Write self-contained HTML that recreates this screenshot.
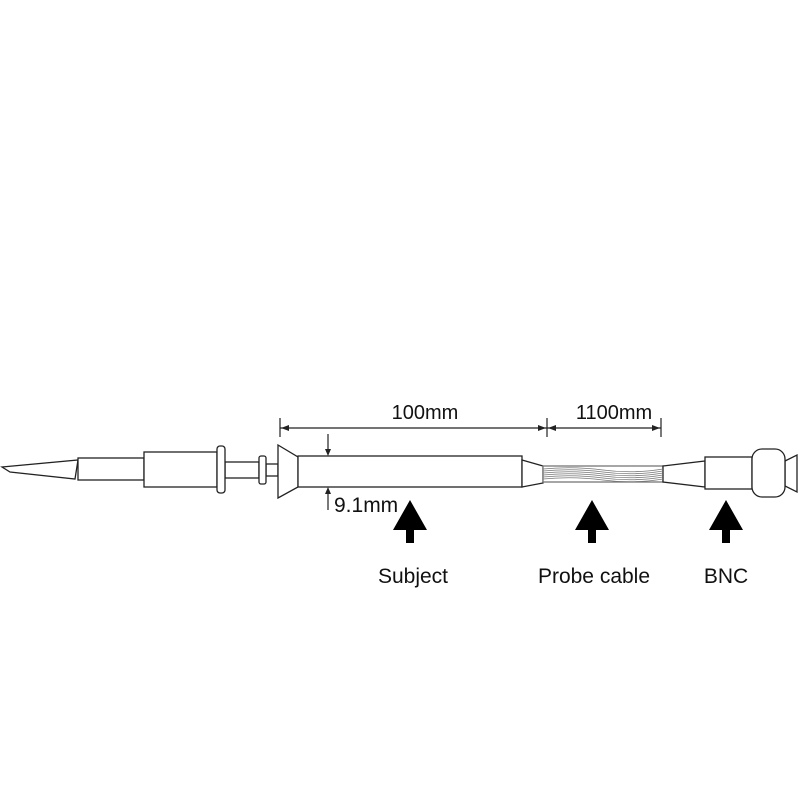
<!DOCTYPE html>
<html><head><meta charset="utf-8"><style>
html,body{margin:0;padding:0;background:#fff}
svg{display:block}
text{font-family:"Liberation Sans",sans-serif;fill:#111}
</style></head><body>
<svg width="800" height="800" viewBox="0 0 800 800" xmlns="http://www.w3.org/2000/svg">
<g fill="#fff" stroke="#222" stroke-width="1.3">
<polygon points="2,467 78,460 75,479 10,472"/>
<rect x="78" y="458" width="66" height="22"/>
<rect x="144" y="452" width="73" height="35"/>
<rect x="225" y="462" width="34" height="16"/>
<rect x="266" y="464" width="12" height="12"/>
<rect x="217" y="446" width="8" height="47" rx="3"/>
<rect x="259" y="456" width="7" height="28" rx="2"/>
<polygon points="278,445 298,457 298,487 278,498"/>
<rect x="298" y="456" width="224" height="31"/>
<polygon points="522,460 543,466 543,483 522,487"/>
<rect x="543" y="466" width="120" height="16" stroke="#777"/>
<polygon points="663,466 705,461 705,487 663,482"/>
<rect x="705" y="457" width="47" height="32"/>
<polygon points="785,461 797,455 797,492 785,486"/>
<rect x="752" y="449" width="33" height="48" rx="10"/>
</g>
<g stroke="#777" stroke-width="0.8" fill="none">
<path d="M543,469 Q573,466 603,470 T663,469"/>
<path d="M543,471 Q573,468 603,472 T663,471"/>
<path d="M543,473 Q573,470 603,474 T663,473"/>
<path d="M543,475 Q573,472 603,476 T663,475"/>
<path d="M543,477 Q573,474 603,478 T663,477"/>
<path d="M543,479 Q573,476 603,480 T663,479"/>
</g>
<g stroke="#222" stroke-width="1.2" fill="none">
<line x1="280" y1="418" x2="280" y2="437"/>
<line x1="547" y1="418" x2="547" y2="437"/>
<line x1="661" y1="418" x2="661" y2="437"/>
<line x1="280" y1="428" x2="547" y2="428"/>
<line x1="547" y1="428" x2="661" y2="428"/>
<line x1="328" y1="434" x2="328" y2="452"/>
<line x1="328" y1="491" x2="328" y2="510"/>
</g>
<g fill="#222">
<polygon points="281,428 289,425 289,431"/>
<polygon points="546,428 538,425 538,431"/>
<polygon points="548,428 556,425 556,431"/>
<polygon points="660,428 652,425 652,431"/>
<polygon points="328,456 325,449 331,449"/>
<polygon points="328,487 325,494 331,494"/>
</g>
<text x="425" y="419" font-size="20" text-anchor="middle">100mm</text>
<text x="614" y="419" font-size="20" text-anchor="middle">1100mm</text>
<text x="334" y="512" font-size="21">9.1mm</text>
<g fill="#000">
<polygon points="410,500 427,530 414,530 414,543 406,543 406,530 393,530"/>
<polygon points="592,500 609,530 596,530 596,543 588,543 588,530 575,530"/>
<polygon points="726,500 743,530 730,530 730,543 722,543 722,530 709,530"/>
</g>
<text x="413" y="583" font-size="21" text-anchor="middle">Subject</text>
<text x="594" y="583" font-size="21" text-anchor="middle">Probe cable</text>
<text x="726" y="583" font-size="21" text-anchor="middle">BNC</text>
</svg>
</body></html>
